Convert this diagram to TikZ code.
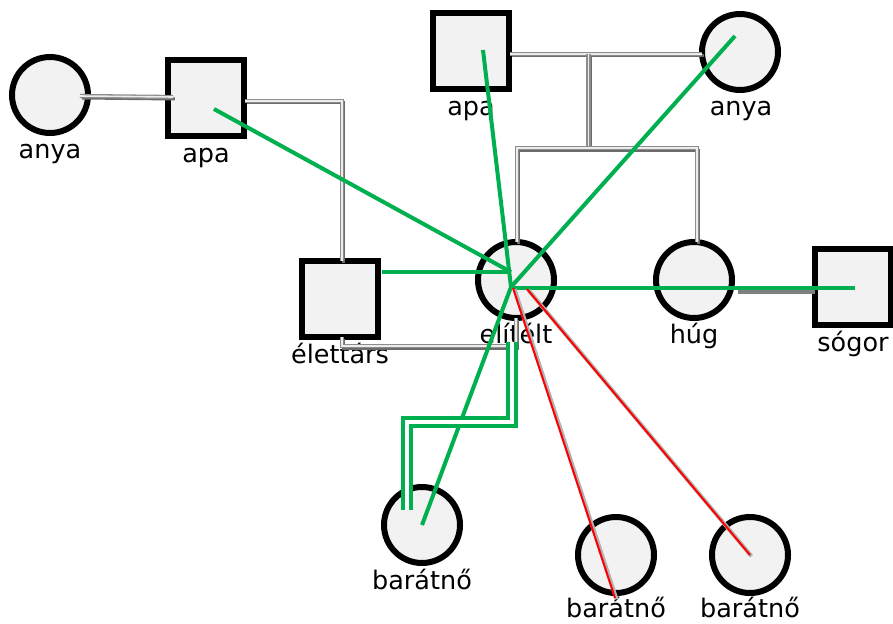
\documentclass[tikz,border=0pt]{standalone}
\usepackage{fontspec}
\setmainfont{DejaVu Sans}
\usetikzlibrary{calc}
\definecolor{fillg}{HTML}{F2F2F2}
\definecolor{grn}{HTML}{00B050}
\tikzset{
  person/.style={draw=black, line width=6pt, fill=fillg, inner sep=0pt, minimum size=76pt},
  fem/.style={person, circle},
  mal/.style={person, rectangle},
  lbl/.style={anchor=base, inner sep=0pt, font=\fontsize{25.5}{30}\selectfont},
  rel/.style={draw=gray!90, line width=1.3pt, double=gray!15, double distance=1.6pt,
    preaction={draw=gray!85!black, line width=3pt, transform canvas={shift={(1.8pt,-2pt)}}}},
  relthick/.style={draw=gray, line width=5pt},
  tie/.style={draw=grn, line width=4pt},
  tiedouble/.style={draw=grn, line width=4pt, double=white, double distance=4pt},
  bad/.style={draw=red, line width=2pt,
    preaction={draw=gray!60, line width=4pt, transform canvas={shift={(1.5pt,-1.2pt)}}}},
}
\begin{document}
\begin{tikzpicture}[x=1pt,y=-1pt]
\useasboundingbox (0,0) rectangle (893,623);
% nodes
\node[fem] (anyaL) at (50,95) {};
\node[mal] (apaL) at (206,98) {};
\node[mal] (apaT) at (471,51) {};
\node[fem] (anyaT) at (740,52) {};
\node[mal] (elet) at (340,299) {};
\node[fem] (eli) at (516,280) {};
\node[fem] (hug) at (694,280) {};
\node[mal] (sogor) at (853,287) {};
\node[fem] (b1) at (422,525) {};
\node[fem] (b2) at (616,555) {};
\node[fem] (b3) at (750,555) {};
% labels
\node[lbl] (lanyaL) at (50,158) {anya};
\node[lbl] (lapaL) at (206,162) {apa};
\node[lbl] (lapaT) at (471,115) {apa};
\node[lbl] (lanyaT) at (741,115) {anya};
\node[lbl] (lelet) at (340,363) {élettárs};
\node[lbl] (leli) at (516,343) {elítélt};
\node[lbl] (lhug) at (694,343) {húg};
\node[lbl] (lsogor) at (853,351) {sógor};
\node[lbl] (lb1) at (422,589) {barátnő};
\node[lbl] (lb2) at (616,617) {barátnő};
\node[lbl] (lb3) at (750,617) {barátnő};
% gray family connectors
\draw[rel] ($(anyaL.center)+(30,1)$) -- ($(apaL.center)+(-33,-1)$);
\draw[rel] ($(apaL.center)+(39,3)$) -| ($(elet.center)+(2,-38)$);
\draw[rel] ($(elet.center)+(2,38)$) |- ($(eli.center)+(0,66)$) -- ($(eli.center)+(0,38)$);
\draw[rel] ($(apaT.center)+(39,3)$) -- ($(anyaT.center)+(-38,2)$);
\coordinate (mid) at ($(apaT.center)!0.5!(anyaT.center)+(-17,3)$);
\draw[rel] (mid) -- ($(mid)+(0,94)$);
\draw[rel] ($(eli.center)+(1,-38)$) |- ($(hug.center)+(3,-132)$) -- ($(hug.center)+(3,-38)$);
\draw[relthick] ($(hug.center)+(44,11)$) -- ($(sogor.center)+(-38,4)$);
% green ties
\coordinate (c) at ($(eli.center)+(-5,7)$);
\draw[tie] ($(apaL.center)+(8,11)$) -- ($(eli.center)+(-5,-8)$);
\draw[tie] ($(apaT.center)+(12,-1)$) -- (c);
\draw[tie] ($(anyaT.center)+(-5,-16)$) -- (c);
\draw[tie] ($(elet.center)+(42,-27)$) -- ($(eli.center)+(-5,-8)$);
\draw[tie] ($(eli.center)+(-3,8)$) -- ($(sogor.center)+(2,1)$);
\draw[tie] (c) -- (b1.center);
\draw[tiedouble] ($(eli.center)+(-4,62)$) -- ($(eli.center)+(-4,142)$) -- ($(b1.center)+(-15,-103)$) -- ($(b1.center)+(-15,-15)$);
% red ties
\draw[bad] ($(eli.center)+(-3,8)$) -- ($(b2.center)+(-1,43)$);
\draw[bad] ($(eli.center)+(11,9)$) -- (b3.center);
\end{tikzpicture}
\end{document}
